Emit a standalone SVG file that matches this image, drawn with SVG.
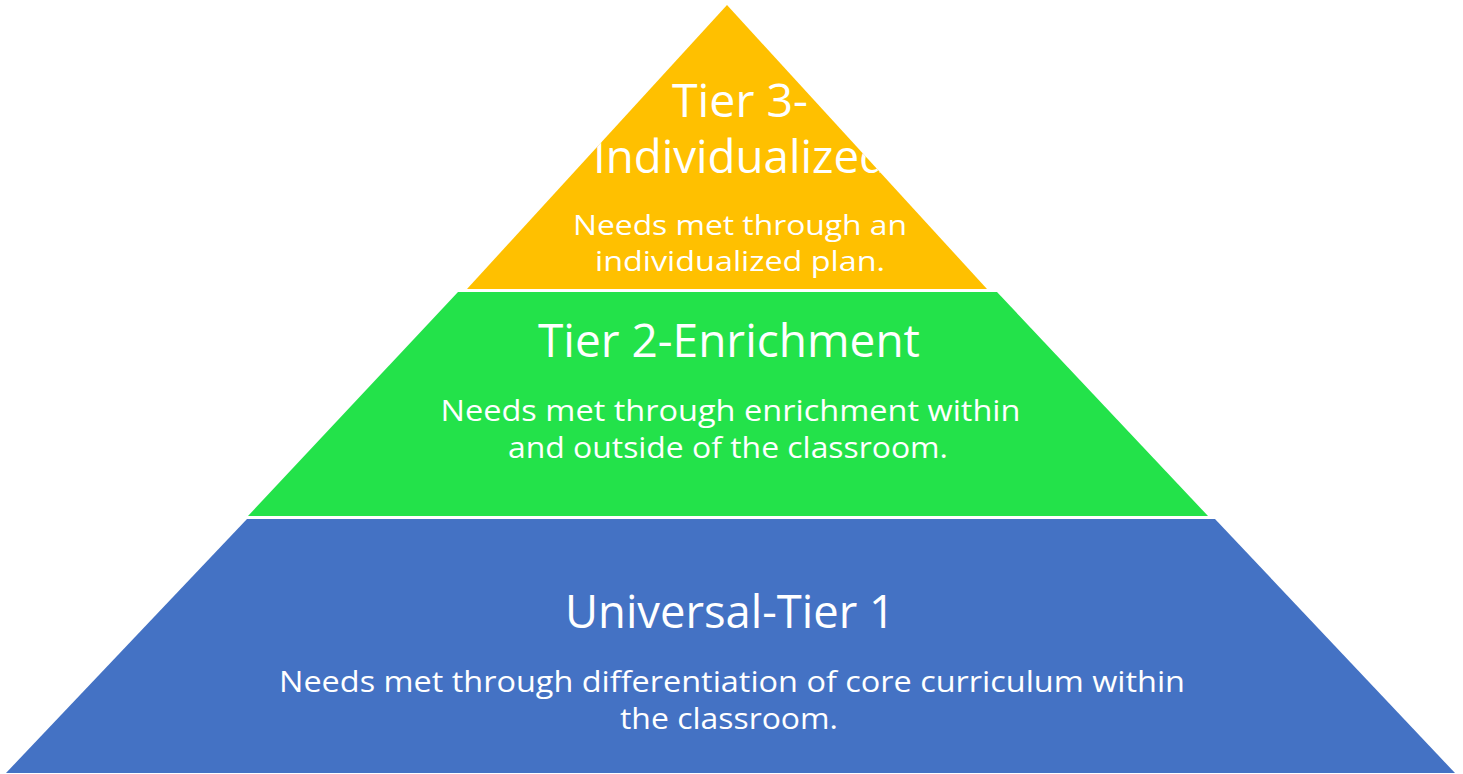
<svg xmlns="http://www.w3.org/2000/svg" width="1463" height="774" viewBox="0 0 1463 774">
  <style>
    .title { font-family: "Open Sans", "Liberation Sans", sans-serif; font-size: 45px; fill: #FFFFFF; text-anchor: middle; }
    .body { font-family: "Open Sans", "Liberation Sans", sans-serif; font-size: 30px; fill: #FFFFFF; text-anchor: middle; }
    .body-sm { font-family: "Open Sans", "Liberation Sans", sans-serif; font-size: 28px; fill: #FFFFFF; text-anchor: middle; }
  </style>
  <defs>
    <clipPath id="clipTier3">
      <polygon points="727,5 987,289 467,289"/>
    </clipPath>
  </defs>
  <rect x="0" y="0" width="1463" height="774" fill="#FFFFFF"/>

  <g id="tier3">
    <polygon points="727,5 987,289 467,289" fill="#FFC000"/>
    <g clip-path="url(#clipTier3)">
      <text class="title" x="740" y="117" textLength="136" lengthAdjust="spacingAndGlyphs">Tier 3-</text>
      <text class="title" x="740" y="173" textLength="294" lengthAdjust="spacingAndGlyphs">Individualized</text>
      <text class="body-sm" x="740" y="235" textLength="334" lengthAdjust="spacingAndGlyphs">Needs met through an</text>
      <text class="body-sm" x="740" y="271" textLength="290" lengthAdjust="spacingAndGlyphs">individualized plan.</text>
    </g>
  </g>

  <g id="tier2">
    <polygon points="458,292 997,292 1208,516 248,516" fill="#23E24A"/>
    <text class="title" x="729" y="357" textLength="382" lengthAdjust="spacingAndGlyphs">Tier 2-Enrichment</text>
    <text class="body" x="730.5" y="421" textLength="580" lengthAdjust="spacingAndGlyphs">Needs met through enrichment within</text>
    <text class="body" x="728" y="458" textLength="440" lengthAdjust="spacingAndGlyphs">and outside of the classroom.</text>
  </g>

  <g id="tier1">
    <polygon points="247,519 1215,519 1455,773 6,773" fill="#4472C4"/>
    <text class="title" x="730" y="628" textLength="330" lengthAdjust="spacingAndGlyphs">Universal-Tier 1</text>
    <text class="body" x="732" y="692" textLength="906" lengthAdjust="spacingAndGlyphs">Needs met through differentiation of core curriculum within</text>
    <text class="body" x="729" y="729" textLength="218" lengthAdjust="spacingAndGlyphs">the classroom.</text>
  </g>

  <g id="connectors"></g>
</svg>
